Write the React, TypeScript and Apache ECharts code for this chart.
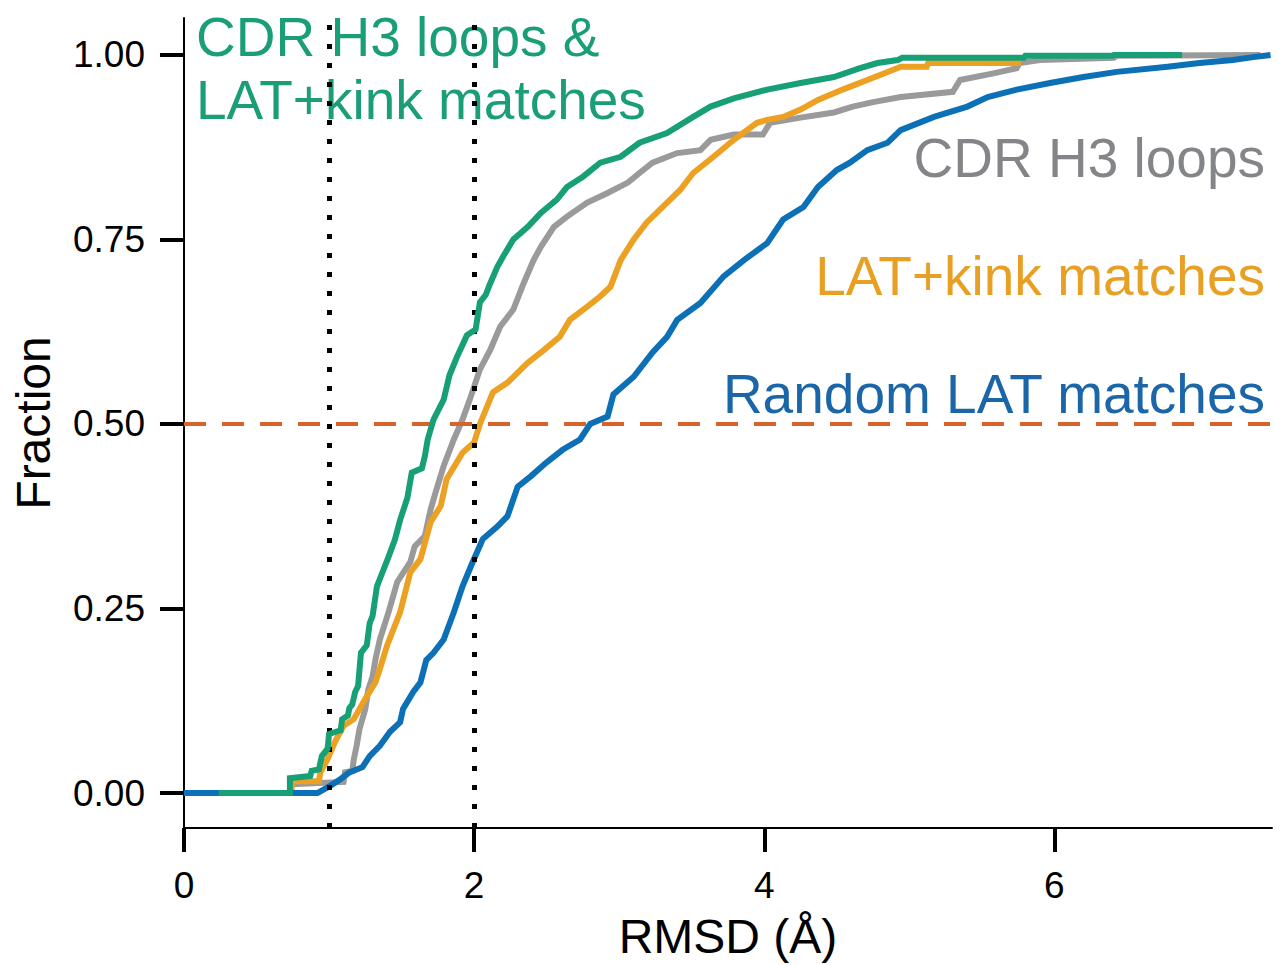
import React, { useEffect, useRef } from "react";
import * as echarts from "echarts";

// ECDF curves: [RMSD (Å), fraction]
const cdrH3AndLatKink: number[][] = [
  [0.24, 0], [0.73, 0], [0.73, 0.02], [0.87, 0.023], [0.88, 0.03], [0.93, 0.032], [0.95, 0.05],
  [0.99, 0.06], [1.0, 0.08], [1.08, 0.085], [1.09, 0.1], [1.13, 0.105], [1.14, 0.115], [1.16, 0.12],
  [1.18, 0.137], [1.2, 0.145], [1.22, 0.19], [1.26, 0.2], [1.28, 0.23], [1.3, 0.24], [1.33, 0.28],
  [1.36, 0.295], [1.41, 0.32], [1.455, 0.344], [1.49, 0.37], [1.54, 0.4], [1.57, 0.434], [1.64, 0.44],
  [1.66, 0.456], [1.68, 0.479], [1.72, 0.506], [1.79, 0.533], [1.83, 0.566], [1.88, 0.59], [1.95, 0.62],
  [2.01, 0.628], [2.04, 0.665], [2.08, 0.675], [2.11, 0.69], [2.16, 0.713], [2.2, 0.727], [2.27, 0.75],
  [2.37, 0.767], [2.46, 0.786], [2.57, 0.804], [2.64, 0.821], [2.75, 0.835], [2.87, 0.854], [3.01, 0.862],
  [3.14, 0.881], [3.33, 0.894], [3.51, 0.916], [3.63, 0.93], [3.79, 0.941], [4.02, 0.953], [4.25, 0.962],
  [4.48, 0.97], [4.66, 0.982], [4.78, 0.989], [4.92, 0.993], [4.95, 0.996], [5.79, 0.996], [5.8, 0.999],
  [6.4, 0.999], [6.41, 1.0], [6.88, 1.0],
];

const cdrH3Loops: number[][] = [
  [0.5, 0], [0.73, 0], [0.74, 0.012], [1.1, 0.015], [1.11, 0.028], [1.16, 0.03], [1.17, 0.045],
  [1.19, 0.064], [1.21, 0.087], [1.25, 0.114], [1.27, 0.14], [1.3, 0.158], [1.32, 0.181], [1.35, 0.208],
  [1.41, 0.245], [1.47, 0.286], [1.56, 0.313], [1.59, 0.334], [1.66, 0.348], [1.7, 0.384], [1.74, 0.411],
  [1.79, 0.443], [1.86, 0.479], [1.92, 0.506], [1.97, 0.533], [2.04, 0.574], [2.11, 0.6], [2.18, 0.632],
  [2.27, 0.655], [2.34, 0.69], [2.41, 0.722], [2.46, 0.74], [2.55, 0.767], [2.64, 0.781], [2.78, 0.8],
  [2.92, 0.813], [3.06, 0.827], [3.14, 0.84], [3.23, 0.854], [3.4, 0.867], [3.56, 0.871], [3.63, 0.885],
  [3.79, 0.892], [3.99, 0.892], [4.04, 0.908], [4.25, 0.915], [4.48, 0.922], [4.61, 0.93], [4.75, 0.936],
  [4.94, 0.943], [5.3, 0.95], [5.35, 0.966], [5.58, 0.975], [5.74, 0.982], [5.76, 0.989], [5.9, 0.993],
  [6.41, 0.996], [6.43, 0.999], [7.42, 1.0],
];

const latKinkMatches: number[][] = [
  [0.5, 0], [0.74, 0], [0.745, 0.016], [0.93, 0.016], [0.94, 0.028], [0.99, 0.046], [1.04, 0.069],
  [1.1, 0.091], [1.17, 0.1], [1.21, 0.114], [1.26, 0.131], [1.32, 0.15], [1.35, 0.168], [1.4, 0.2],
  [1.49, 0.245], [1.56, 0.299], [1.63, 0.317], [1.7, 0.367], [1.77, 0.389], [1.81, 0.425], [1.92, 0.461],
  [2.0, 0.475], [2.04, 0.5], [2.13, 0.543], [2.23, 0.556], [2.37, 0.583], [2.48, 0.6], [2.59, 0.618],
  [2.66, 0.641], [2.78, 0.659], [2.87, 0.673], [2.94, 0.686], [3.01, 0.722], [3.1, 0.75], [3.19, 0.773],
  [3.3, 0.794], [3.42, 0.817], [3.51, 0.84], [3.65, 0.862], [3.79, 0.885], [3.95, 0.908], [4.02, 0.912],
  [4.13, 0.916], [4.25, 0.926], [4.37, 0.939], [4.54, 0.953], [4.71, 0.966], [4.89, 0.98], [4.94, 0.984],
  [5.12, 0.984], [5.13, 0.989], [5.77, 0.989],
];

const randomLatMatches: number[][] = [
  [0, 0], [0.92, 0], [1.01, 0.01], [1.08, 0.019], [1.14, 0.028], [1.23, 0.035], [1.28, 0.05],
  [1.35, 0.064], [1.42, 0.083], [1.49, 0.096], [1.51, 0.114], [1.58, 0.137], [1.63, 0.15], [1.67, 0.18],
  [1.72, 0.19], [1.79, 0.208], [1.86, 0.245], [1.92, 0.28], [1.99, 0.313], [2.06, 0.344], [2.16, 0.361],
  [2.23, 0.375], [2.3, 0.415], [2.39, 0.429], [2.5, 0.448], [2.61, 0.465], [2.73, 0.479], [2.8, 0.5],
  [2.92, 0.51], [2.96, 0.54], [3.1, 0.564], [3.23, 0.597], [3.33, 0.618], [3.4, 0.641], [3.56, 0.664],
  [3.72, 0.7], [3.86, 0.722], [4.02, 0.745], [4.13, 0.777], [4.27, 0.794], [4.37, 0.821], [4.5, 0.844],
  [4.59, 0.854], [4.71, 0.871], [4.85, 0.881], [4.94, 0.898], [5.17, 0.916], [5.4, 0.93], [5.54, 0.943],
  [5.74, 0.953], [5.97, 0.962], [6.2, 0.97], [6.43, 0.977], [6.78, 0.984], [7.0, 0.989], [7.23, 0.993],
  [7.37, 0.997], [7.49, 1.0],
];

const xTicks = [0, 2, 4, 6];
const yTicks = [0, 0.25, 0.5, 0.75, 1.0];
const thresholdsX = [1, 2];
const medianY = 0.5;

const FONT = "'Liberation Sans', Arial, Helvetica, sans-serif";

export default function App() {
  const ref = useRef<HTMLDivElement>(null);

  useEffect(() => {
    if (!ref.current) return;
    const chart = echarts.init(ref.current, null, { renderer: "svg" });

    const curve = (name: string, data: number[][], color: string, z: number) => ({
      name,
      type: "line",
      data,
      showSymbol: false,
      symbol: "none",
      z,
      lineStyle: { color, width: 6, join: "miter" },
      silent: true,
    });

    chart.setOption({
      animation: false,
      backgroundColor: "#ffffff",
      grid: { left: 184, right: 13, top: 18, bottom: 136, containLabel: false },
      xAxis: {
        type: "value",
        min: 0,
        max: 7.5,
        name: "RMSD (Å)",
        nameLocation: "middle",
        nameGap: 84,
        nameTextStyle: { fontSize: 48, color: "#000", fontFamily: FONT },
        axisLine: { onZero: false, lineStyle: { color: "#000", width: 2 } },
        axisTick: {
          show: true,
          length: 24,
          customValues: xTicks,
          lineStyle: { color: "#000", width: 4 },
        },
        axisLabel: {
          customValues: xTicks,
          fontSize: 37,
          color: "#000",
          fontFamily: FONT,
          margin: 39,
        },
        splitLine: { show: false },
      },
      yAxis: {
        type: "value",
        min: -0.0474,
        max: 1.05,
        name: "Fraction",
        nameLocation: "middle",
        nameGap: 127,
        nameTextStyle: { fontSize: 48, color: "#000", fontFamily: FONT },
        axisLine: { onZero: false, lineStyle: { color: "#000", width: 2 } },
        axisTick: {
          show: true,
          length: 24,
          customValues: yTicks,
          lineStyle: { color: "#000", width: 4 },
        },
        axisLabel: {
          customValues: yTicks,
          fontSize: 37,
          color: "#000",
          fontFamily: FONT,
          margin: 39,
          formatter: (v: number) => v.toFixed(2),
        },
        splitLine: { show: false },
      },
      graphic: [
        { type: "text", x: 196, y: 37, z: 0, style: { text: "CDR H3 loops &", fill: "#1a9e77", font: `55px ${FONT}`, align: "left", verticalAlign: "middle" } },
        { type: "text", x: 196, y: 100, z: 0, style: { text: "LAT+kink matches", fill: "#1a9e77", font: `55px ${FONT}`, align: "left", verticalAlign: "middle" } },
        { type: "text", x: 1265, y: 158, z: 0, style: { text: "CDR H3 loops", fill: "#838588", font: `55px ${FONT}`, align: "right", verticalAlign: "middle" } },
        { type: "text", x: 1265, y: 276, z: 0, style: { text: "LAT+kink matches", fill: "#e8a024", font: `55px ${FONT}`, align: "right", verticalAlign: "middle" } },
        { type: "text", x: 1265, y: 394, z: 0, style: { text: "Random LAT matches", fill: "#1b66a8", font: `55px ${FONT}`, align: "right", verticalAlign: "middle" } },
      ],
      series: [
        {
          name: "median",
          type: "line",
          data: [],
          z: 1,
          silent: true,
          markLine: {
            silent: true,
            symbol: ["none", "none"],
            label: { show: false },
            lineStyle: { color: "#d9622b", width: 4, type: [22, 16] },
            data: [{ yAxis: medianY }],
          },
        },
        curve("CDR H3 loops", cdrH3Loops, "#9a9a9a", 2),
        curve("LAT+kink matches", latKinkMatches, "#eca123", 3),
        curve("Random LAT matches", randomLatMatches, "#0b70b5", 4),
        curve("CDR H3 loops & LAT+kink matches", cdrH3AndLatKink, "#17a076", 5),
        {
          name: "thresholds",
          type: "line",
          data: [],
          z: 10,
          silent: true,
          markLine: {
            silent: true,
            symbol: ["none", "none"],
            label: { show: false },
            lineStyle: { color: "#000", width: 5, type: [5, 14], cap: "butt" },
            data: thresholdsX.map((x) => ({ xAxis: x })),
          },
        },
      ],
    });

    return () => chart.dispose();
  }, []);

  return (
    <div
      ref={ref}
      style={{ position: "absolute", left: 0, top: 0, width: 1285, height: 965 }}
    />
  );
}
